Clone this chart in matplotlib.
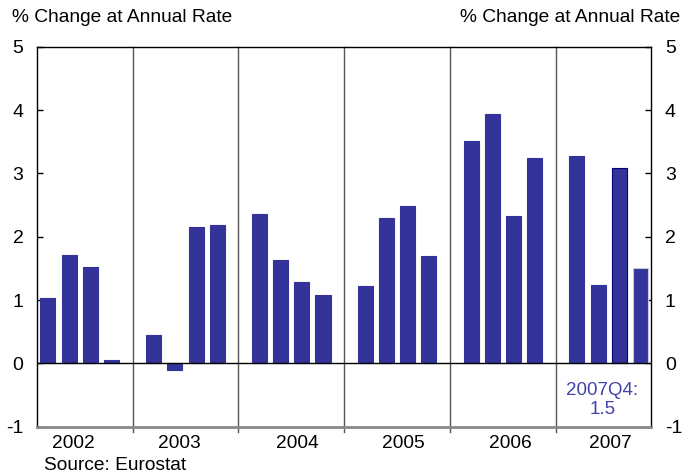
import matplotlib
matplotlib.use("Agg")
import matplotlib.pyplot as plt
import numpy as np

plt.rcParams['font.family'] = ['Liberation Sans', 'DejaVu Sans']
plt.rcParams['axes.unicode_minus'] = False

years = ["2002", "2003", "2004", "2005", "2006", "2007"]
# Quarterly growth, % change at annual rate (Q1..Q4 per year)
growth = [
    [1.03, 1.71, 1.52, 0.05],
    [0.45, -0.10, 2.15, 2.18],
    [2.36, 1.63, 1.28, 1.08],
    [1.22, 2.29, 2.48, 1.69],
    [3.51, 3.94, 2.33, 3.24],
    [3.27, 1.24, 3.09, 1.50],
]
yticks = [-1, 0, 1, 2, 3, 4, 5]
note_text = "2007Q4:\n1.5"
source_text = "Source: Eurostat"
ylabel_text = "% Change at Annual Rate"

bar_color = "#333399"
# horizontal placement of the year captions, in slot units
year_label_x = [1.22, 6.22, 11.77, 16.81, 21.86, 26.6]

fig = plt.figure(figsize=(6.84, 4.74), dpi=100)
ax = fig.add_axes([37.3 / 684, 1 - 426.7 / 474, (651 - 37.3) / 684, (426.7 - 46.7) / 474])

# Each year takes 4 quarter slots plus one blank slot before the next year
for yi, vals in enumerate(growth):
    xs = yi * 5 + np.arange(4)
    edges = [bar_color] * 4
    if yi == len(growth) - 1:
        edges = [bar_color, bar_color, "#000080", "#c8c8e0"]
    ax.bar(xs, vals, width=0.71, color=bar_color, edgecolor=edges, linewidth=0.8, zorder=2)

n_slots = len(years) * 5 - 1
ax.set_xlim(-0.5, n_slots - 0.5)
ax.set_ylim(yticks[0], yticks[-1])

# Year separators, extending just below the axis
for yi in range(1, len(years)):
    ax.plot([yi * 5 - 1, yi * 5 - 1], [yticks[0] - 0.08, yticks[-1]], color="#555555",
            linewidth=1.0, clip_on=False, zorder=1)

ax.axhline(0, color="black", linewidth=1.0, zorder=3)

ax.set_xticks([])
ax.set_yticks(yticks)
ax.tick_params(axis="y", direction="in", length=4, width=1, labelsize=14,
               left=True, right=True, labelleft=True, labelright=True, pad=10)

for side in ["left", "right", "top"]:
    ax.spines[side].set_color("black")
    ax.spines[side].set_linewidth(1.0)
ax.spines["bottom"].set_color("#888888")
ax.spines["bottom"].set_linewidth(2.0)

for yr, xpos in zip(years, year_label_x):
    ax.text(xpos, -1.13, yr, ha="center", va="top", fontsize=13.75)

ax.text(26.2, -0.58, note_text, ha="center", va="center", fontsize=13.5,
        color="#4444a8", linespacing=1.15)

fig.text(12 / 684, 1 - 18 / 474, ylabel_text, ha="left", va="center", fontsize=13.75)
fig.text(1 - 4 / 684, 1 - 18 / 474, ylabel_text, ha="right", va="center", fontsize=13.75)
fig.text(44 / 684, 1 - 465 / 474, source_text, ha="left", va="center", fontsize=13.75)

fig.savefig("out.png", dpi=100)
